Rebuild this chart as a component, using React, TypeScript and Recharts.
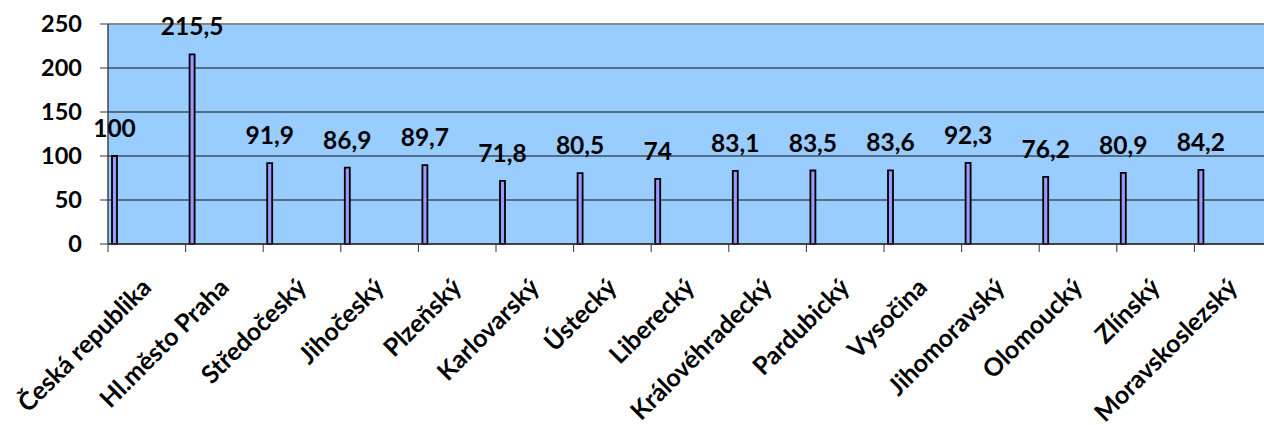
import React from "react";
import { BarChart, Bar, XAxis, YAxis, CartesianGrid, LabelList, ReferenceLine } from "recharts";

const CATEGORIES = [
  "Česká republika",
  "Hl.město Praha",
  "Středočeský",
  "Jihočeský",
  "Plzeňský",
  "Karlovarský",
  "Ústecký",
  "Liberecký",
  "Královéhradecký",
  "Pardubický",
  "Vysočina",
  "Jihomoravský",
  "Olomoucký",
  "Zlínský",
  "Moravskoslezský",
];
const VALUES = [100, 215.5, 91.9, 86.9, 89.7, 71.8, 80.5, 74, 83.1, 83.5, 83.6, 92.3, 76.2, 80.9, 84.2];
const Y_TICKS = [0, 50, 100, 150, 200, 250];

const data = CATEGORIES.map((name, i) => ({ name, value: VALUES[i] }));

const FONT = "Lato, 'Open Sans', sans-serif";
const W = 1290;
const H = 425;
const M = { top: 24, right: 18, left: 0, bottom: 0 };
const Y_W = 108;
const BAND = (W - M.right - M.left - Y_W) / CATEGORIES.length;

const fmt = (v: number) => String(v).replace(".", ",");

function CategoryTick(props: any) {
  const { x, y, payload } = props;
  const edge = x - BAND / 2;
  const tx = x + 6;
  const ty = y + 45;
  return (
    <g>
      <line x1={edge} y1={y} x2={edge} y2={y + 8} stroke="#333" strokeWidth={1} />
      <text
        x={tx}
        y={ty}
        textAnchor="end"
        transform={`rotate(-45 ${tx} ${ty})`}
        fontFamily={FONT}
        fontWeight="bold"
        fontSize={25}
        fill="#000"
      >
        {payload.value}
      </text>
    </g>
  );
}

export default function App() {
  return (
    <div style={{ position: "fixed", left: 0, top: 0, width: 1264, height: 425, overflow: "hidden", background: "#fff" }}>
      <BarChart width={W} height={H} data={data} margin={M} barGap={4}>
        <CartesianGrid fill="#99CCFF" stroke="#111" vertical={false} />
        <XAxis
          dataKey="name"
          interval={0}
          height={181}
          tickLine={false}
          tickSize={0}
          tickMargin={0}
          axisLine={{ stroke: "#333", strokeWidth: 1.5 }}
          tick={<CategoryTick />}
        />
        <YAxis
          domain={[0, 250]}
          ticks={Y_TICKS}
          width={Y_W}
          tickSize={8}
          tickMargin={18}
          axisLine={{ stroke: "#444", strokeWidth: 1.5 }}
          tickLine={{ stroke: "#333" }}
          tick={{ fontFamily: FONT, fontWeight: "bold", fontSize: 23.5, fill: "#000" }}
        />
        <ReferenceLine y={250} stroke="#888" strokeWidth={2} />
        <Bar dataKey="value" barSize={5} fill="#9999FF" stroke="#000" strokeWidth={1.8} isAnimationActive={false}>
          <LabelList
            dataKey="value"
            position="top"
            offset={19}
            formatter={(v: any) => fmt(v)}
            style={{ fontFamily: FONT, fontWeight: "bold", fontSize: 24.5, fill: "#000" }}
          />
        </Bar>
        <Bar dataKey="spacer" barSize={60} fill="none" stroke="none" isAnimationActive={false} />
      </BarChart>
    </div>
  );
}
